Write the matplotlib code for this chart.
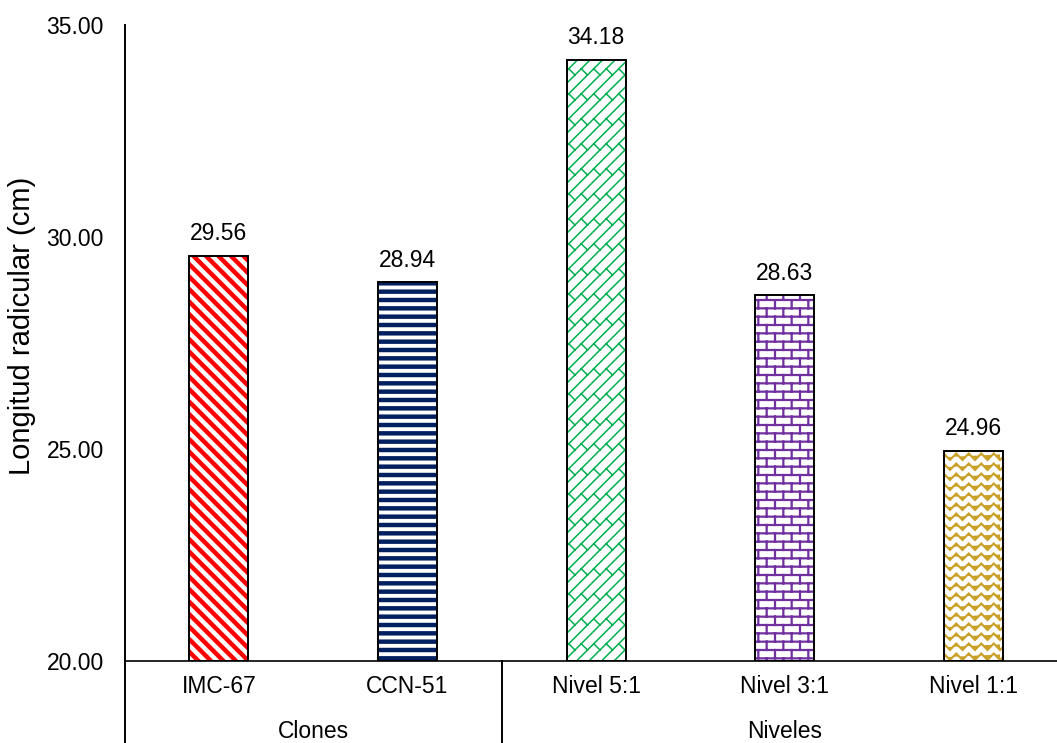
import matplotlib
matplotlib.use("Agg")
import matplotlib.pyplot as plt
from matplotlib import hatch as mhatch
from matplotlib.path import Path
from matplotlib.transforms import blended_transform_factory

# ---- data -------------------------------------------------------------
categories = ["IMC-67", "CCN-51", "Nivel 5:1", "Nivel 3:1", "Nivel 1:1"]
groups = ["Clones", "Niveles"]
group_sizes = [2, 3]
longitud = [29.56, 28.94, 34.18, 28.63, 24.96]
yticks = [20, 25, 30, 35]

# ---- style --------------------------------------------------------------
pattern_colors = ["#FF0000", "#002060", "#00B050", "#7030A0", "#C9A028"]
pattern_keys = ["\\", "-", "/", "+", "x"]
pattern_widths = [3.2, 3.2, 1.1, 1.6, 1.5]
FONT = "Liberation Sans"
FS = 16.5
FS_TITLE = 21


# ---- pattern tiles (unit square = one hatch tile) -----------------------
def tile_wide_downward(n=8):
    return [[(-0.5, k / n + 0.5), (1.5, k / n - 1.5)] for k in range(-2, 2 * n + 3)]


def tile_horizontal(n=12):
    return [[(-0.1, k / n), (1.1, k / n)] for k in range(0, n + 1)]


def tile_diagonal_brick(n=8):
    lines = [[(-0.5, -0.5 + k / n), (1.5, 1.5 + k / n)] for k in range(-n - 2, n + 3)]
    for k in range(-n - 2, n + 2):
        for j in range(-3, n // 2 + 4):
            a = 2 * j / n + (k % 2) / n
            lines.append([(a, a + k / n), (a - 0.5 / n, a + k / n + 0.5 / n)])
    return lines


def tile_horizontal_brick(rows=12, cols=6):
    lines = [[(-0.1, k / rows), (1.1, k / rows)] for k in range(0, rows + 1)]
    for k in range(rows):
        for j in range(-1, cols + 2):
            x = j / cols + (k % 2) / (2 * cols)
            lines.append([(x, k / rows), (x, (k + 1) / rows)])
    return lines


def tile_zigzag(rows=10, cols=8, amp=0.065):
    lines = []
    for r in range(-1, rows + 2):
        y0 = r / rows
        pts = []
        for m in range(-1, cols + 2):
            pts.append((m / cols, y0))
            pts.append((m / cols + 0.5 / cols, y0 + amp))
        lines.append(pts)
    return lines


TILES = {
    "\\": tile_wide_downward(),
    "-": tile_horizontal(),
    "/": tile_diagonal_brick(),
    "+": tile_horizontal_brick(),
    "x": tile_zigzag(),
}


class TileHatch(mhatch.HatchPatternBase):
    def __init__(self, hatch, density):
        self.lines = TILES.get(hatch, [])
        self.num_vertices = sum(len(line) for line in self.lines)

    def set_vertices_and_codes(self, vertices, codes):
        i = 0
        for line in self.lines:
            for j, p in enumerate(line):
                vertices[i] = p
                codes[i] = Path.MOVETO if j == 0 else Path.LINETO
                i += 1


mhatch._hatch_types[:] = [TileHatch]

# ---- figure ---------------------------------------------------------------
W, H, DPI = 1057, 743, 100
fig = plt.figure(figsize=(W / DPI, H / DPI), dpi=DPI)
plt.rcParams["font.family"] = [FONT, "DejaVu Sans"]

ax_left, ax_bottom, ax_top = 124.5, 661, 25
step = 188.6
ax = fig.add_axes([ax_left / W, (H - ax_bottom) / H, (W - ax_left) / W,
                   (ax_bottom - ax_top) / H])

ymin, ymax = yticks[0], yticks[-1]
x = list(range(len(categories)))
heights = [v - ymin for v in longitud]
bw = 59 / step

fills = ax.bar(x, heights, bottom=ymin, width=bw, color="white",
               edgecolor=pattern_colors, linewidth=0, zorder=2)
for patch, key, lw in zip(fills, pattern_keys, pattern_widths):
    patch.set_hatch(key)
    if hasattr(patch, "set_hatch_linewidth"):
        patch.set_hatch_linewidth(lw)
ax.bar(x, heights, bottom=ymin, width=bw, fill=False, edgecolor="black",
       linewidth=1.4, zorder=3)

for xi, v in zip(x, longitud):
    ax.annotate(f"{v:.2f}", xy=(xi, v), xytext=(0, 11), textcoords="offset points",
                ha="center", va="baseline", fontsize=FS, family=FONT)

ax.set_xlim(-0.5, (W - ax_left) / step - 0.5)
ax.set_ylim(ymin, ymax)
ax.set_yticks(yticks)
ax.set_yticklabels([f"{t:.2f}" for t in yticks], fontsize=FS, family=FONT)
ax.tick_params(axis="y", length=0, pad=15)
ax.set_xticks(x)
ax.set_xticklabels(categories, fontsize=FS, family=FONT)
ax.tick_params(axis="x", length=0, pad=10)

for side in ("top", "right", "left"):
    ax.spines[side].set_visible(False)
ax.spines["bottom"].set_linewidth(1.2)
ax.spines["bottom"].set_zorder(4)

# axis line and group separators running down through the category area
below = -(H - ax_bottom) / (ax_bottom - ax_top)
trans = blended_transform_factory(ax.transData, ax.transAxes)
ax.plot([-0.5, -0.5], [1.0, below], transform=trans, color="black",
        linewidth=1.4, clip_on=False, zorder=4)
start = 0
for name, size in zip(groups, group_sizes):
    end = start + size
    center = (start + end - 1) / 2
    ax.text(center, -70 / (ax_bottom - ax_top), name, transform=trans,
            ha="center", va="center", fontsize=FS, family=FONT)
    if end < len(categories):
        ax.plot([end - 0.5, end - 0.5], [0, below], transform=trans,
                color="black", linewidth=1.4, clip_on=False, zorder=4)
    start = end

fig.text(22 / W, 1 - 326 / H, "Longitud radicular (cm)", rotation=90,
         ha="center", va="center", fontsize=FS_TITLE, family=FONT)

fig.savefig("out.png", dpi=DPI)
